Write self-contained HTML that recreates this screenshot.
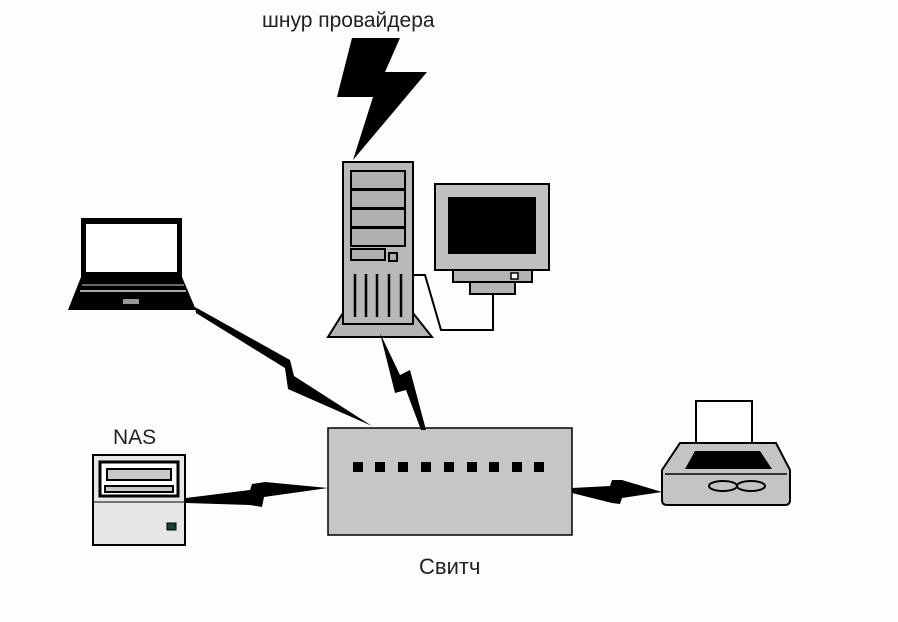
<!DOCTYPE html>
<html><head><meta charset="utf-8"><style>
body{margin:0;background:#fff}
svg{display:block}
text{font-family:"Liberation Sans",sans-serif;fill:#222}
</style></head><body>
<svg width="898" height="622" viewBox="0 0 898 622" xmlns="http://www.w3.org/2000/svg">
<rect width="898" height="622" fill="#fdfdfd"/>
<text x="262" y="27" font-size="21">шнур провайдера</text>
<polygon points="352,38 400,38 385,72 427,72 353,160 373,97 337,97" fill="#000"/>
<!-- tower -->
<polygon points="343,313 413,313 432,337 328,337" fill="#b4b4b4" stroke="#000" stroke-width="2"/>
<rect x="343" y="162" width="70" height="162" fill="#b8b8b8" stroke="#000" stroke-width="2"/>
<g fill="#b0b0b0" stroke="#000" stroke-width="2">
<rect x="351" y="171" width="54" height="18"/><rect x="351" y="190" width="54" height="18"/>
<rect x="351" y="209" width="54" height="18"/><rect x="351" y="228" width="54" height="18"/>
<rect x="351" y="249" width="34" height="11"/><rect x="389" y="253" width="8" height="8"/>
</g>
<g stroke="#000" stroke-width="2.5">
<line x1="355" y1="274" x2="355" y2="317"/><line x1="366" y1="274" x2="366" y2="317"/>
<line x1="377" y1="274" x2="377" y2="317"/><line x1="389" y1="274" x2="389" y2="317"/>
<line x1="401" y1="274" x2="401" y2="317"/>
</g>
<!-- cable -->
<polyline points="413,275 425,275 441,330 493,330 493,294" fill="none" stroke="#000" stroke-width="2"/>
<!-- monitor -->
<rect x="435" y="184" width="114" height="86" fill="#c0c0c0" stroke="#000" stroke-width="2"/>
<rect x="448" y="197" width="88" height="57" fill="#000"/>
<rect x="453" y="270" width="79" height="12" fill="#b4b4b4" stroke="#000" stroke-width="2"/>
<rect x="511" y="273" width="7" height="6" fill="#fff" stroke="#000" stroke-width="1.5"/>
<rect x="470" y="282" width="45" height="12" fill="#b4b4b4" stroke="#000" stroke-width="2"/>
<!-- laptop -->
<rect x="81" y="218" width="101" height="59" fill="#000"/>
<rect x="86" y="224" width="91" height="48" fill="#fff"/>
<polygon points="81,277 182,277 196,310 68,310" fill="#000"/>
<line x1="82" y1="285" x2="184" y2="285" stroke="#888" stroke-width="1.5"/>
<line x1="80" y1="291" x2="186" y2="291" stroke="#aaa" stroke-width="2"/>
<rect x="123" y="299" width="16" height="5" fill="#999"/>
<!-- switch -->
<rect x="328" y="428" width="244" height="107" fill="#c6c6c6" stroke="#000" stroke-width="1.5"/>
<g fill="#000">
<rect x="353" y="462" width="10" height="10"/><rect x="375" y="462" width="10" height="10"/>
<rect x="398" y="462" width="10" height="10"/><rect x="421" y="462" width="10" height="10"/>
<rect x="444" y="462" width="10" height="10"/><rect x="467" y="462" width="10" height="10"/>
<rect x="489" y="462" width="10" height="10"/><rect x="512" y="462" width="10" height="10"/>
<rect x="534" y="462" width="10" height="10"/>
</g>
<text x="419" y="574" font-size="22">Свитч</text>
<!-- bolts -->
<polygon points="195,307 290,360 294,376 372,426 288,389 285,368 196,313" fill="#000"/>
<polygon points="380,333 400,375 410,370 426,430 421,430 406,390 395,393" fill="#000"/>
<polygon points="186,498 250,490 252,484 265,482 328,488 264,497 262,507 250,505 186,503" fill="#000"/>
<polygon points="572,488 610,486 612,480 622,480 662,492 622,498 620,504 612,503 572,493" fill="#000"/>
<!-- NAS -->
<text x="113" y="444" font-size="21">NAS</text>
<rect x="93" y="455" width="92" height="90" fill="#e6e6e6" stroke="#000" stroke-width="2"/>
<rect x="100" y="462" width="78" height="34" fill="#fff" stroke="#000" stroke-width="3"/>
<rect x="107" y="469" width="64" height="11" fill="#c8c8c8" stroke="#000" stroke-width="2"/>
<rect x="105" y="486" width="68" height="6" fill="#c8c8c8" stroke="#000" stroke-width="2"/>
<line x1="93" y1="502" x2="185" y2="502" stroke="#000" stroke-width="1"/>
<rect x="167" y="523" width="9" height="7" fill="#143" stroke="#000"/>
<!-- printer -->
<polygon points="696,401 752,401 752,455 696,455" fill="#fff" stroke="#000" stroke-width="2"/>
<path d="M680,443 L776,443 L790,470 L790,500 Q790,505 785,505 L667,505 Q662,505 662,500 L662,470 Z" fill="#c4c4c4" stroke="#000" stroke-width="2"/>
<polygon points="695,451 760,451 772,469 685,469" fill="#000"/>
<line x1="665" y1="474" x2="787" y2="474" stroke="#000" stroke-width="1.5"/>
<ellipse cx="723" cy="486" rx="14" ry="5" fill="#c4c4c4" stroke="#000" stroke-width="2"/>
<ellipse cx="751" cy="486" rx="14" ry="5" fill="#c4c4c4" stroke="#000" stroke-width="2"/>
</svg>
</body></html>
